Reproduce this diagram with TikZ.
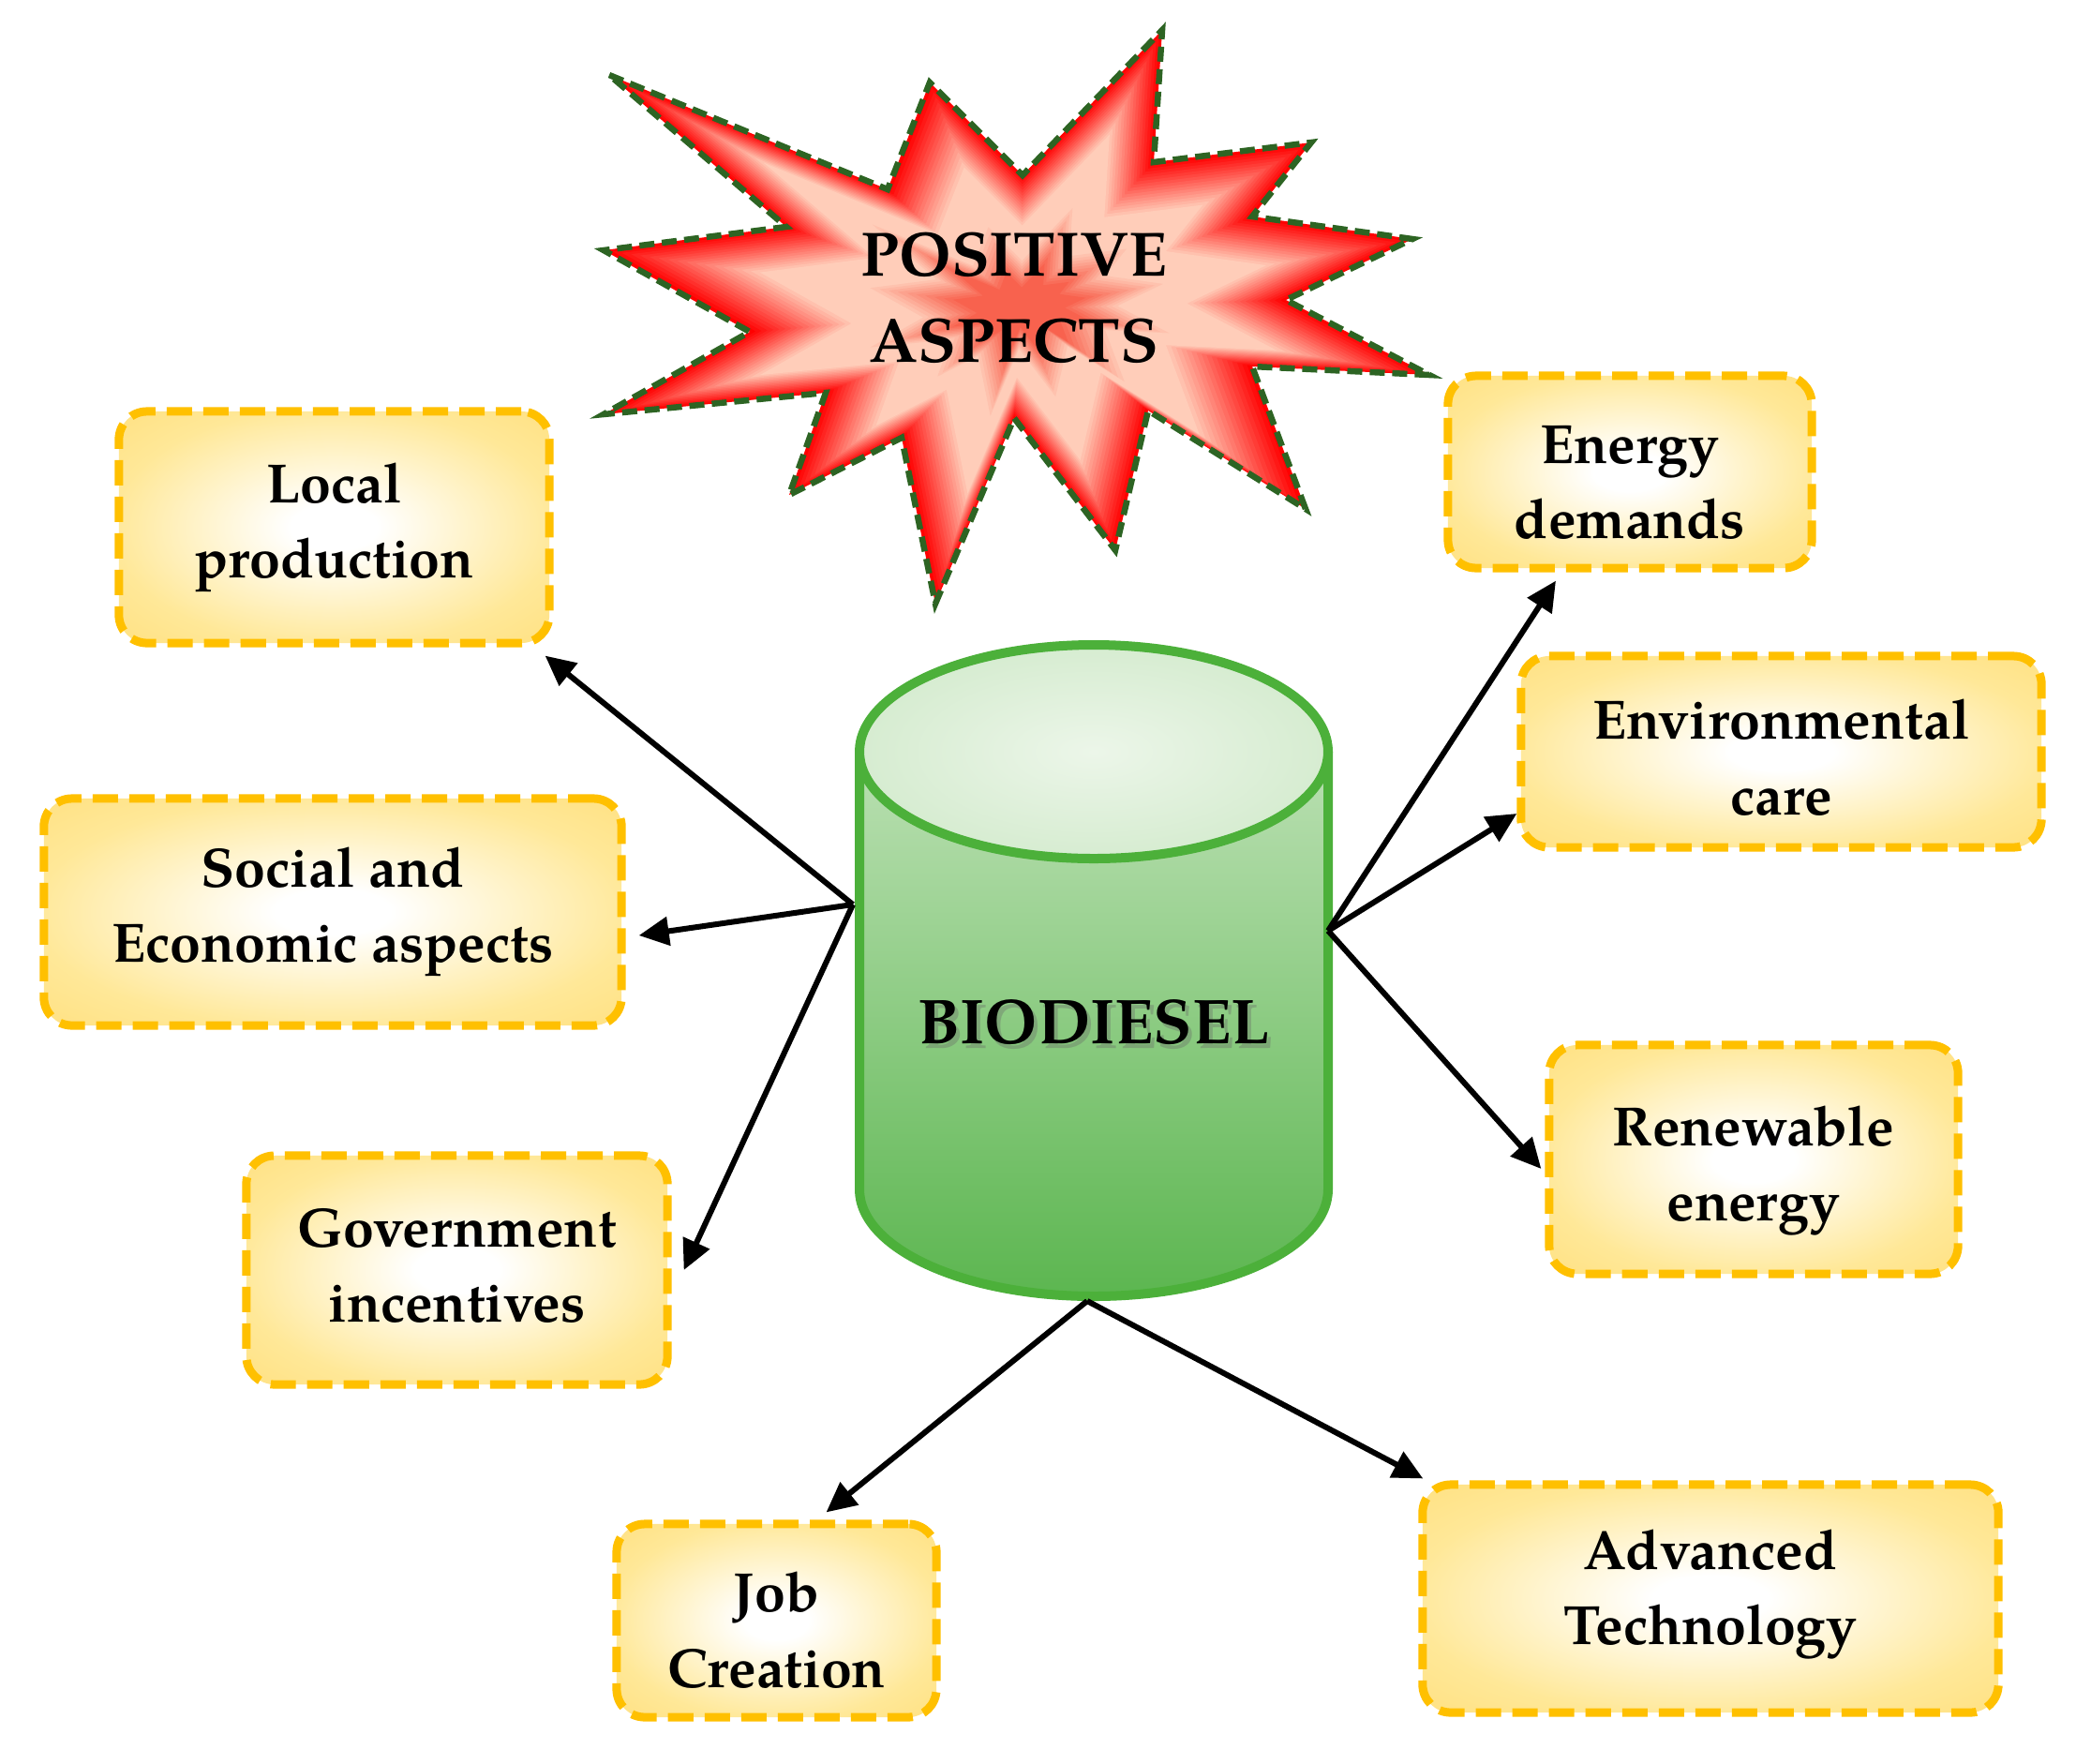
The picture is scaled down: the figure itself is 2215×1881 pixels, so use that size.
\documentclass[tikz,border=0pt]{standalone}
\usepackage{fontspec}
\setmainfont{TeX Gyre Pagella}
\usetikzlibrary{arrows.meta,calc}
\definecolor{gold}{RGB}{255,192,0}
\definecolor{bxedge}{RGB}{255,219,112}
\definecolor{bxmid}{RGB}{255,232,152}
\definecolor{cylline}{RGB}{76,176,58}
\definecolor{cyltop}{RGB}{205,232,198}
\definecolor{cylmid}{RGB}{158,210,148}
\definecolor{cylbot}{RGB}{92,182,80}
\definecolor{lidin}{RGB}{236,246,233}
\definecolor{lidout}{RGB}{192,226,184}
\definecolor{starred}{RGB}{255,0,0}
\definecolor{peach}{RGB}{255,205,185}
\definecolor{salmon}{RGB}{248,98,78}
\definecolor{stargreen}{RGB}{45,100,35}
\pgfdeclareradialshading{boxglow}{\pgfpoint{0bp}{0bp}}{color(0bp)=(white); color(5bp)=(white); color(26bp)=(bxmid); color(44bp)=(bxedge); color(50bp)=(bxedge)}
\pgfdeclareradialshading{lidglow}{\pgfpoint{0bp}{0bp}}{color(0bp)=(lidin); color(50bp)=(lidout)}
\newcommand\boxfont{\fontsize{16.8}{22.8}\selectfont\bfseries}
\newcommand\starfont{\fontsize{19}{26.2}\selectfont\bfseries}
\newcommand\biofont{\fontsize{19.2}{22}\selectfont\bfseries}
\newcommand\uprule[1]{\rule{0pt}{#1}}
\newcommand\downrule[1]{\rule[-#1]{0pt}{0pt}}
\newcommand\starshape[1]{\path[#1] (-440,250) -- (-143,128) -- (-98,242) -- (1,143) -- (150,298) -- (141,157) -- (309,178) -- (246,99) -- (417,75) -- (282,10) -- (435,-70) -- (246,-61) -- (303,-213) -- (135,-108) -- (100,-257) -- (-8,-116) -- (-92,-314) -- (-128,-137) -- (-248,-198) -- (-209,-89) -- (-446,-112) -- (-290,-24) -- (-446,63) -- (-251,88) -- cycle;}
\tikzset{
  infobox/.style={rounded corners=0.3cm, draw=gold, line width=0.09cm,
    dash pattern=on 0.27cm off 0.12cm, shading=boxglow, align=center,
    font=\boxfont, inner sep=0pt, text=black},
  arr/.style={line width=0.06cm, -{Triangle[length=0.32cm,width=0.3cm]}},
  cylstroke/.style={draw=cylline, line width=0.1cm}
}
\begin{document}
\begin{tikzpicture}[x=0.01cm,y=0.01cm]
\useasboundingbox (0,0) rectangle (2215,-1881);
\fill[white] (0,0) rectangle (2215,-1881);

% star burst
\foreach \i in {0,...,40}{
  \pgfmathsetmacro\s{1-\i*0.022}
  \pgfmathsetmacro\ta{min(100,\i*100/17)}
  \pgfmathsetmacro\tb{max(0,min(100,(\i-28)*10))}
  \colorlet{lay}{peach!\ta!starred}
  \colorlet{lay}{salmon!\tb!lay}
  \starshape{fill=lay, shift={(1090,-330)}, scale=\s}
}
\starshape{draw=stargreen, line width=0.065cm, dash pattern=on 0.16cm off 0.08cm, line join=miter, shift={(1090,-330)}}
\node[font=\starfont, align=center, text=black] (star) at (1082,-318) {POSITIVE\\ASPECTS};

% cylinder
\path[shading=axis, top color=cyltop, middle color=cylmid, bottom color=cylbot]
  (917,-802) -- (917,-1269) arc[start angle=180, end angle=360, x radius=250, y radius=114]
  -- (1417,-802) arc[start angle=0, end angle=180, x radius=250, y radius=114] -- cycle;
\draw[cylstroke] (917,-802) -- (917,-1269) arc[start angle=180, end angle=360, x radius=250, y radius=114] -- (1417,-802);
\draw[cylstroke, shading=lidglow] (1167,-802) ellipse [x radius=250, y radius=114];
\node[font=\biofont, text=black!60, opacity=0.35] at (1171,-1096) {BIODIESEL};
\node[font=\biofont, text=black] (bio) at (1167,-1091) {BIODIESEL};
\coordinate (hubL) at (910,-965);
\coordinate (hubR) at (1417,-993);
\coordinate (hubB) at (1160,-1388);

% boxes
\node[infobox, minimum width=4.59cm, minimum height=2.47cm] (lp) at (356.5,-562.5) {Local\\production};
\node[infobox, minimum width=6.16cm, minimum height=2.42cm] (se) at (355,-973) {Social and\\Economic aspects};
\node[infobox, minimum width=4.49cm, minimum height=2.44cm] (gi) at (487.5,-1355) {Government\\incentives\downrule{0.1cm}};
\node[infobox, minimum width=3.41cm, minimum height=2.06cm] (jc) at (828.5,-1729) {\uprule{0.63cm}Job\\Creation};
\node[infobox, minimum width=6.14cm, minimum height=2.43cm] (at) at (1825,-1705.5) {Advanced\\Technology\downrule{0.24cm}};
\node[infobox, minimum width=4.36cm, minimum height=2.44cm] (re) at (1871,-1237) {\uprule{0.67cm}Renewable\\energy};
\node[infobox, minimum width=5.55cm, minimum height=2.04cm] (ec) at (1900.5,-802) {\uprule{0.55cm}Environmental\\care};
\node[infobox, minimum width=3.88cm, minimum height=2.05cm] (ed) at (1739,-503.5) {\uprule{0.63cm}Energy\\demands};

% connectors
\draw[arr] (hubL) -- ($(lp.south east)+(-9,-9)$);
\draw[arr] (hubL) -- ($(se.east)+(14,-25)$);
\draw[arr] (hubL) -- ($(gi.east)+(13,0)$);
\draw[arr] (hubB) -- ($(jc.north)+(53,8)$);
\draw[arr] (hubB) -- ($(at.north west)+(5,2)$);
\draw[arr] (hubR) -- ($(re.west)+(-4,-10)$);
\draw[arr] (hubR) -- ($(ec.west)+(0,-66)$);
\draw[arr] (hubR) -- ($(ed.south)+(-79,-9)$);
\end{tikzpicture}
\end{document}
